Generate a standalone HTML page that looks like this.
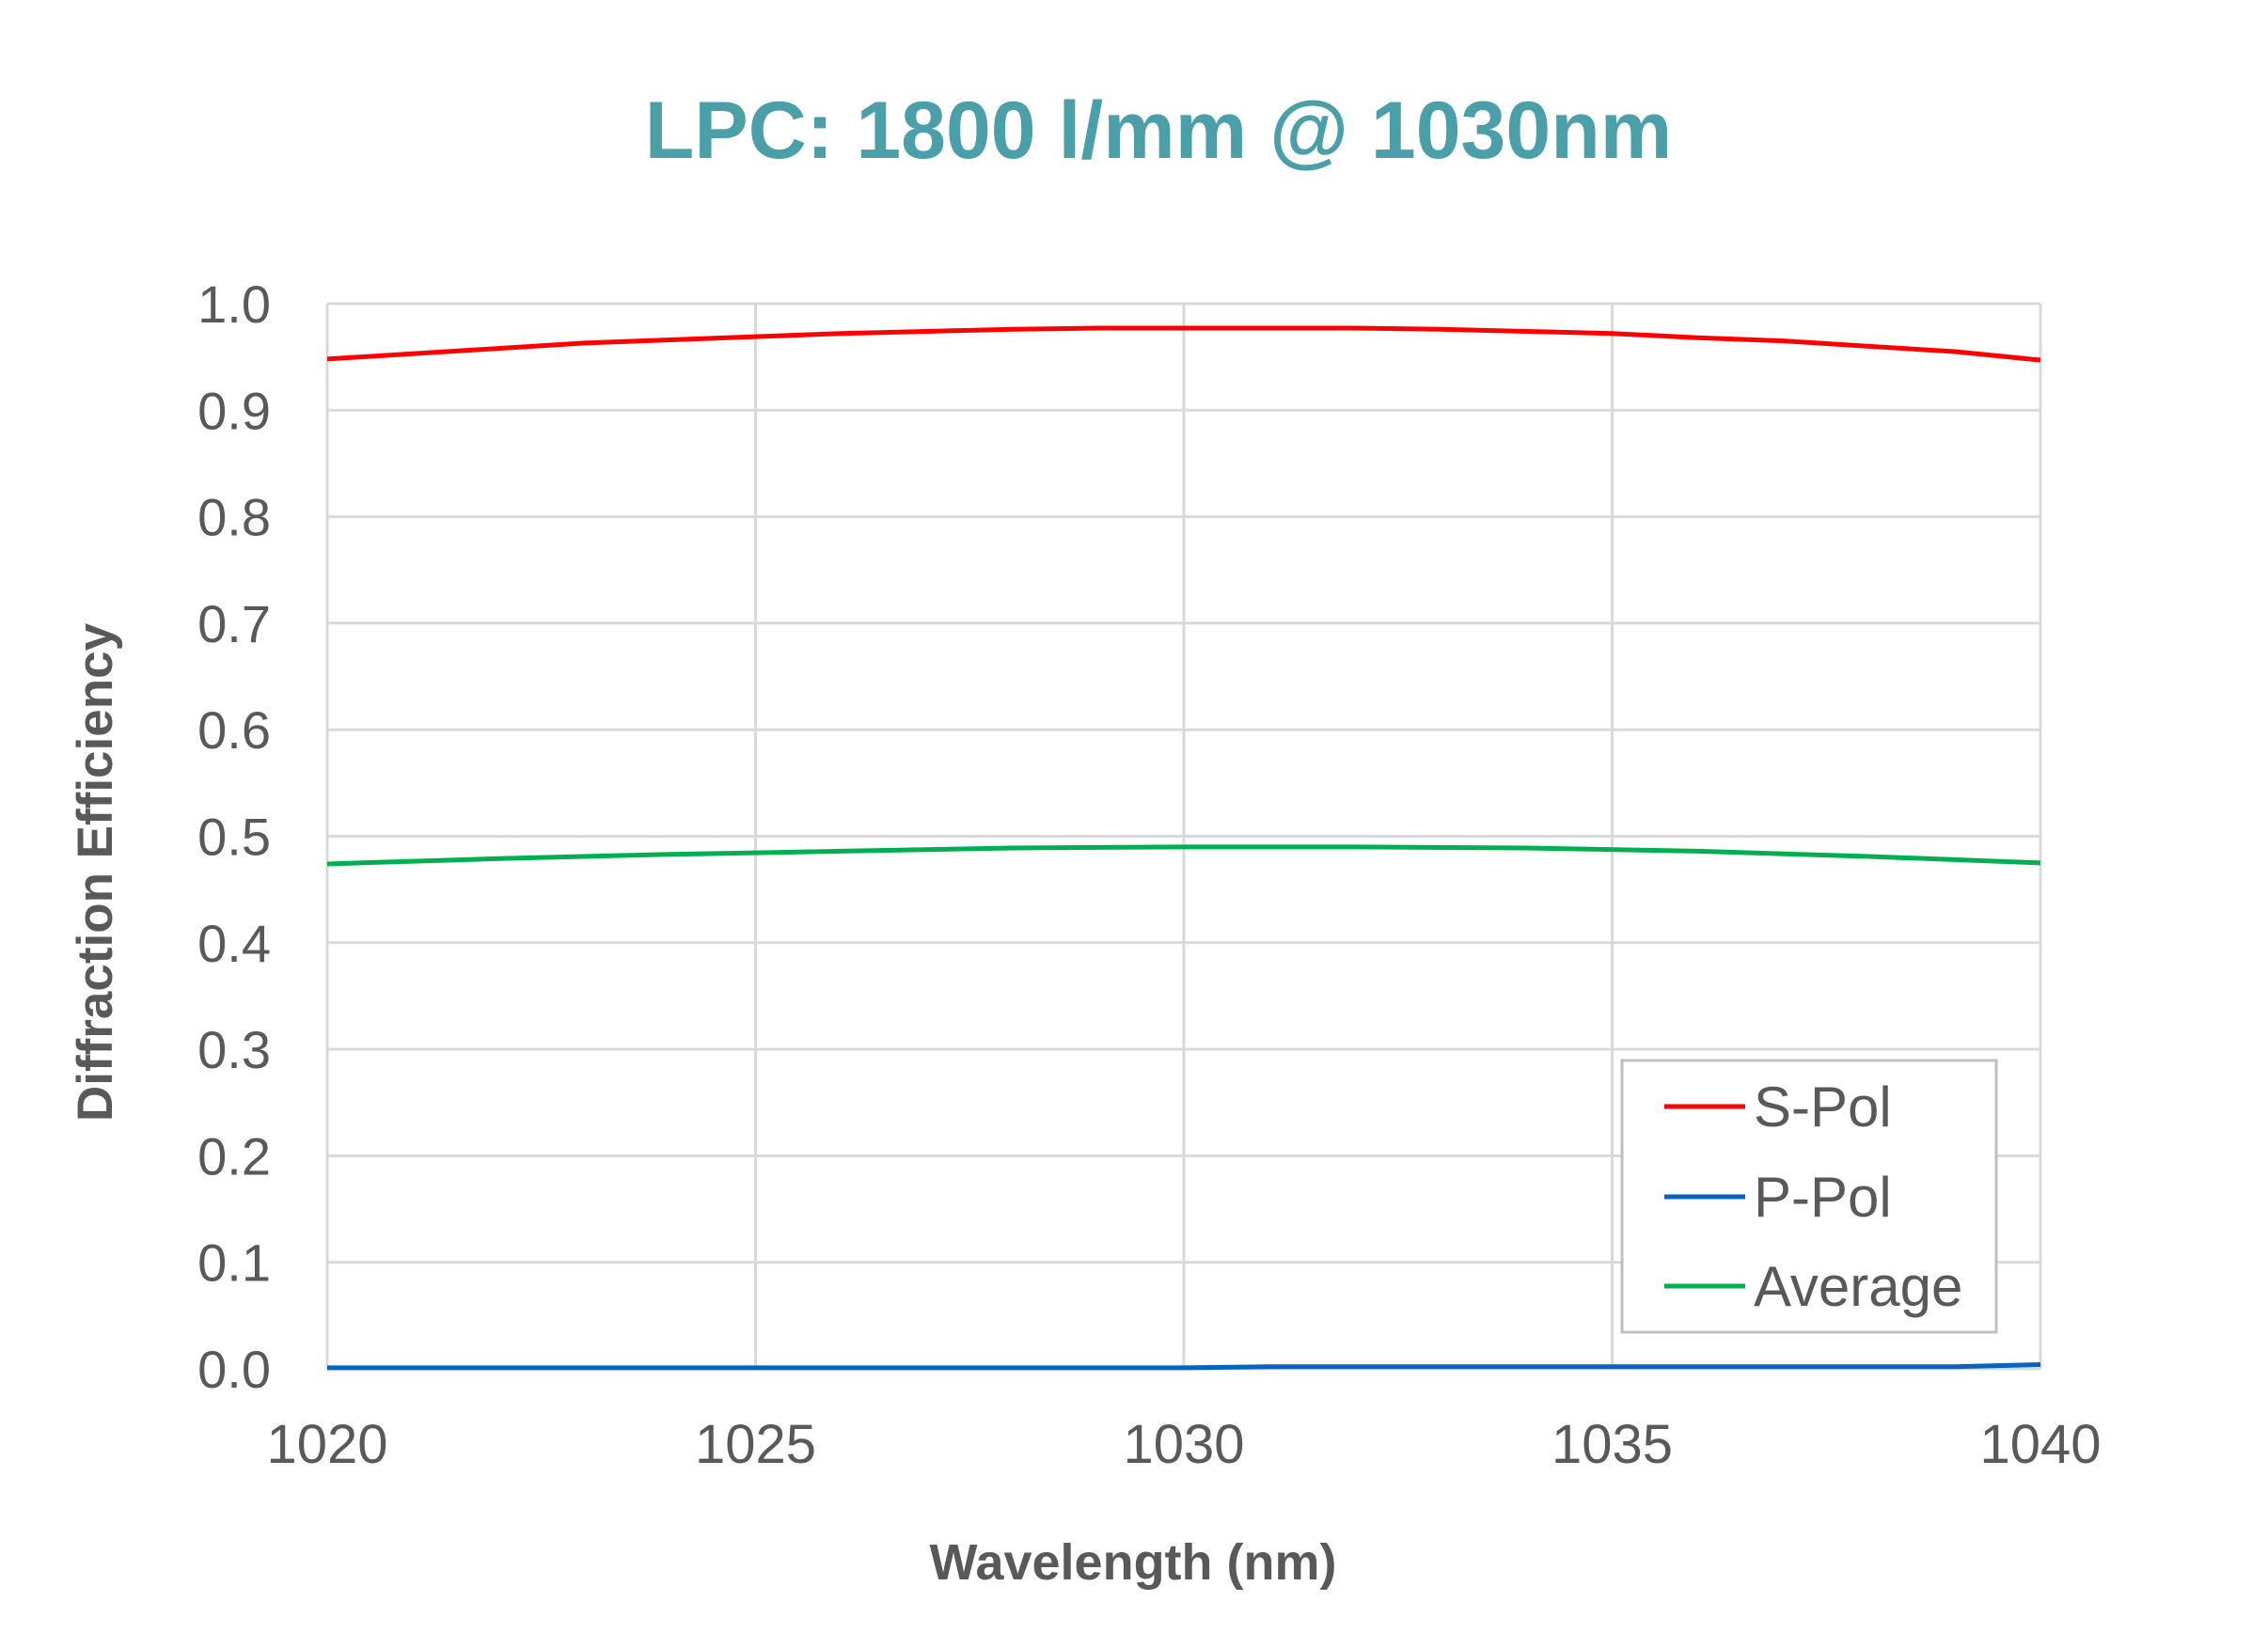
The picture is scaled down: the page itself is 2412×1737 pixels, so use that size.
<!DOCTYPE html>
<html><head><meta charset="utf-8">
<style>
html,body{margin:0;padding:0;background:#fff;}
svg{display:block;}
text{font-family:"Liberation Sans",sans-serif;}
</style></head>
<body>
<svg id="chart" width="2412" height="1737" viewBox="0 0 2412 1737" xmlns="http://www.w3.org/2000/svg">
<text x="1232" y="168" text-anchor="middle" font-size="86" font-weight="bold" fill="#4a9fa8">LPC: 1800 l/mm @ 1030nm</text>
<g id="grid"></g>
<g id="ticks"></g>
<g id="series"></g>
<text transform="translate(119,928) rotate(-90)" text-anchor="middle" font-size="53" font-weight="bold" fill="#595959">Diffraction Efficiency</text>
<text x="1205" y="1680" text-anchor="middle" font-size="54" font-weight="bold" fill="#595959">Wavelength (nm)</text>
<g>
<rect x="1725" y="1128" width="398" height="289" fill="#fff" stroke="#bfbfbf" stroke-width="3"/>
<line x1="1770" y1="1177" x2="1856" y2="1177" stroke="#ff0000" stroke-width="5"/>
<text x="1865" y="1198" font-size="60" fill="#595959">S-Pol</text>
<line x1="1770" y1="1273" x2="1856" y2="1273" stroke="#0563c1" stroke-width="5"/>
<text x="1865" y="1294" font-size="60" fill="#595959">P-Pol</text>
<line x1="1770" y1="1368" x2="1856" y2="1368" stroke="#00b050" stroke-width="5"/>
<text x="1865" y="1389" font-size="60" fill="#595959">Average</text>
</g>
</svg>
<script>
const xTicks = [1020, 1025, 1030, 1035, 1040];
const yTicks = [0.0, 0.1, 0.2, 0.3, 0.4, 0.5, 0.6, 0.7, 0.8, 0.9, 1.0];
const sPolX = [1020, 1021, 1022, 1023, 1024, 1025, 1026, 1027, 1028, 1029, 1030, 1031, 1032, 1033, 1034, 1035, 1036, 1037, 1038, 1039, 1040];
const sPolY = [0.948, 0.953, 0.958, 0.963, 0.966, 0.969, 0.972, 0.974, 0.976, 0.977, 0.977, 0.977, 0.977, 0.976, 0.974, 0.972, 0.968, 0.965, 0.960, 0.955, 0.947];
const pPolX = [1020, 1025, 1030, 1031, 1035, 1039, 1040];
const pPolY = [0.001, 0.001, 0.001, 0.002, 0.002, 0.002, 0.004];
const avgX = [1020, 1022, 1024, 1026, 1028, 1030, 1032, 1034, 1036, 1038, 1040];
const avgY = [0.474, 0.479, 0.483, 0.486, 0.489, 0.490, 0.490, 0.489, 0.486, 0.481, 0.475];

const L = 348, R = 2170, T = 323, B = 1456;
const xMin = 1020, xMax = 1040, yMin = 0, yMax = 1;
function xs(v){ return L + (v - xMin) / (xMax - xMin) * (R - L); }
function ys(v){ return B - (v - yMin) / (yMax - yMin) * (B - T); }
const NS = "http://www.w3.org/2000/svg";
const grid = document.getElementById('grid');
const ticks = document.getElementById('ticks');
const series = document.getElementById('series');

yTicks.forEach(function(t){
  const ln = document.createElementNS(NS, 'line');
  ln.setAttribute('x1', L); ln.setAttribute('x2', R);
  ln.setAttribute('y1', ys(t)); ln.setAttribute('y2', ys(t));
  ln.setAttribute('stroke', '#d9d9d9'); ln.setAttribute('stroke-width', '3');
  
  
  grid.appendChild(ln);
  const tx = document.createElementNS(NS, 'text');
  tx.setAttribute('x', 288); tx.setAttribute('y', ys(t) + 20);
  tx.setAttribute('text-anchor', 'end'); tx.setAttribute('font-size', '56');
  tx.setAttribute('fill', '#595959');
  tx.textContent = t.toFixed(1);
  
  
  ticks.appendChild(tx);
});
xTicks.forEach(function(t){
  const ln = document.createElementNS(NS, 'line');
  ln.setAttribute('x1', xs(t)); ln.setAttribute('x2', xs(t));
  ln.setAttribute('y1', T); ln.setAttribute('y2', B);
  ln.setAttribute('stroke', '#d9d9d9'); ln.setAttribute('stroke-width', '3');
  
  
  grid.appendChild(ln);
  const tx = document.createElementNS(NS, 'text');
  tx.setAttribute('x', xs(t)); tx.setAttribute('y', 1556);
  tx.setAttribute('text-anchor', 'middle'); tx.setAttribute('font-size', '58');
  tx.setAttribute('fill', '#595959');
  tx.textContent = t;
  
  
  ticks.appendChild(tx);
});
function drawLine(xa, ya, color, name){
  const p = document.createElementNS(NS, 'polyline');
  p.setAttribute('points', xa.map(function(x, i){ return xs(x) + ',' + ys(ya[i]); }).join(' '));
  p.setAttribute('fill', 'none'); p.setAttribute('stroke', color);
  p.setAttribute('stroke-width', '5'); p.setAttribute('stroke-linejoin', 'round');
  
  
  series.appendChild(p);
}
drawLine(avgX, avgY, '#00b050', 'average-line');
drawLine(sPolX, sPolY, '#ff0000', 's-pol-line');
drawLine(pPolX, pPolY, '#0563c1', 'p-pol-line');
</script>
</body></html>
